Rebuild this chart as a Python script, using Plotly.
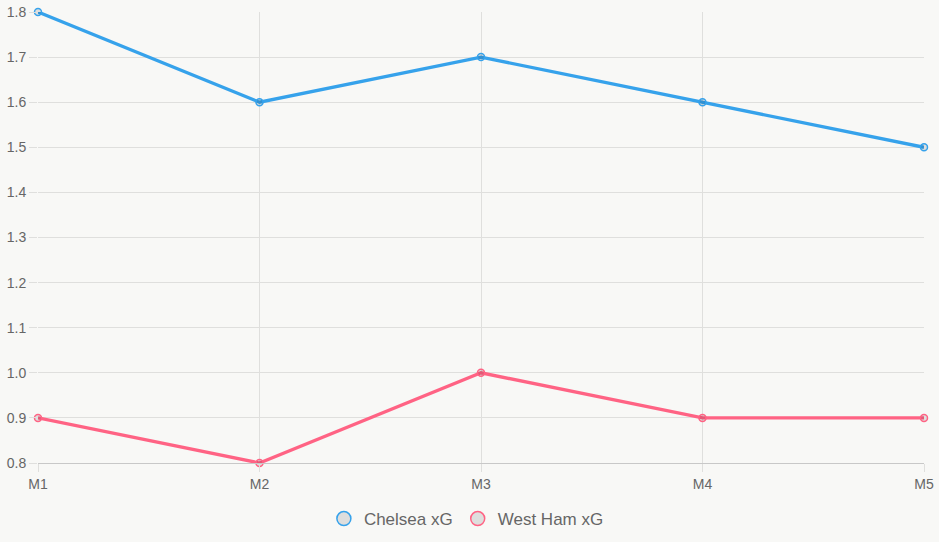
import plotly.graph_objects as go

matches = ["M1", "M2", "M3", "M4", "M5"]
chelsea_xg = [1.8, 1.6, 1.7, 1.6, 1.5]
westham_xg = [0.9, 0.8, 1.0, 0.9, 0.9]
y_ticks = [0.8, 0.9, 1.0, 1.1, 1.2, 1.3, 1.4, 1.5, 1.6, 1.7, 1.8]

BLUE = "#36a2eb"
PINK = "#ff6384"
BG = "#f8f8f6"
GRID = "#dfdfdd"
FONT = "Liberation Sans, Arial, sans-serif"

fig = go.Figure()
for name, vals, col in [("Chelsea xG", chelsea_xg, BLUE), ("West Ham xG", westham_xg, PINK)]:
    fig.add_trace(go.Scatter(
        x=matches, y=vals, mode="lines+markers", name=name, showlegend=False,
        legendgroup=name,
        line=dict(color=col, width=3.3),
        marker=dict(size=7, color="rgba(0,0,0,0.1)", line=dict(color=col, width=1.5)),
        cliponaxis=False,
    ))
    fig.add_trace(go.Scatter(
        x=[None], y=[None], mode="markers", name=name, legendgroup=name,
        marker=dict(size=14, color="rgba(0,0,0,0.1)", line=dict(color=col, width=1.5)),
    ))

fig.update_layout(
    width=939, height=542,
    paper_bgcolor=BG, plot_bgcolor=BG,
    margin=dict(l=38, r=15, t=12, b=79),
    font=dict(family=FONT, color="#666666", size=14),
    legend=dict(orientation="h", xref="paper", x=0.4835, xanchor="center",
                yref="container", y=0.0424, yanchor="middle",
                font=dict(size=17, color="#666666"), bgcolor="rgba(0,0,0,0)"),
    xaxis=dict(type="category", categoryorder="array", categoryarray=matches,
               range=[0, 4], showgrid=True, gridcolor=GRID, gridwidth=1,
               showline=True, linecolor="#c8c8c8", linewidth=1,
               ticks="outside", ticklen=8, tickcolor=GRID, tickfont=dict(size=14),
               zeroline=False, fixedrange=True, automargin=False),
    yaxis=dict(range=[0.8, 1.8], tickvals=y_ticks, ticktext=[f"{v:.1f}" for v in y_ticks],
               showgrid=True, gridcolor=GRID, gridwidth=1,
               showline=False, zeroline=False,
               ticks="outside", ticklen=8, tickcolor=GRID, tickfont=dict(size=14),
               fixedrange=True, automargin=False),
    showlegend=True,
)

fig.write_html("out.html")
